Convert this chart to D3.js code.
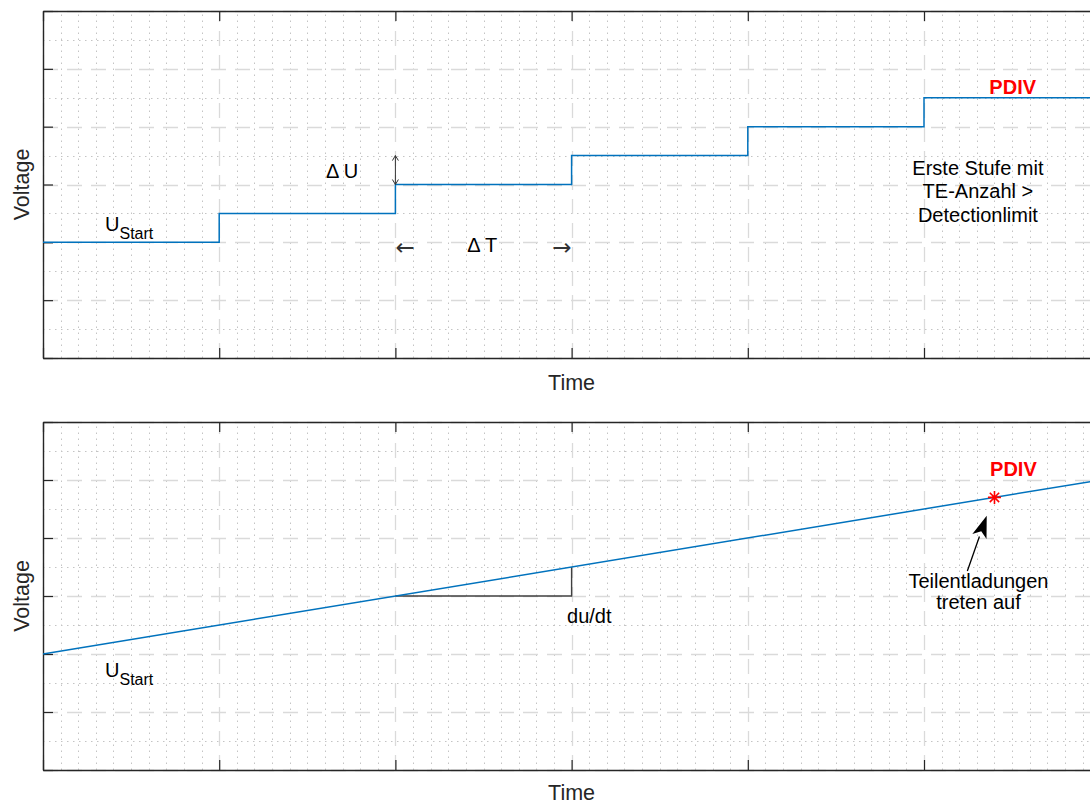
<!DOCTYPE html>
<html><head><meta charset="utf-8">
<script src="https://cdn.jsdelivr.net/npm/d3@7"></script>
<style>
body{margin:0;background:#fff}
text{font-family:"Liberation Sans",Arial,Helvetica,sans-serif;fill:#000}
</style>
</head><body>
<svg id="c" width="1090" height="805"></svg>
<script>
// ---------- data ----------
const xTicks = [0,1,2,3,4,5,6];
const yTicks = [0,1,2,3,4,5,6];
const xDomain = [0,6];
const yDomain = [0,6];
const stepTime = [0,1,2,3,4,5,6];
const stepVoltage = [2,2.5,3,3.5,4,4.5,4.5];
const rampTime = [0,6];
const rampVoltage = [2,5];
const pdivPoint = [5.4,4.7];
const xLabel = "Time";
const yLabel = "Voltage";
// annotations in data coordinates
const topUStart = [0.352,2.196];
const deltaULabel = {text:"\u0394 U", pos:[1.606,3.113]};
const deltaUArrow = [[2,3],[2,3.5]];
const deltaTLeft = {text:"\u2190", pos:[2.0,1.78]};
const deltaTLabel = {text:"\u0394 T", pos:[2.408,1.838]};
const deltaTRight = {text:"\u2192", pos:[2.89,1.78]};
const topPdiv = {text:"PDIV", pos:[5.371,4.56]};
const stufeLines = ["Erste Stufe mit","TE-Anzahl >","Detectionlimit"];
const stufePos = [5.306,3.164];
const botUStart = [0.352,1.608];
const dudtLabel = {text:"du/dt", pos:[2.974,2.537]};
const dudtTriangle = [[2,3],[3,3],[3,3.5]];
const botPdiv = {text:"PDIV", pos:[5.375,5.067]};
const teArrow = [[5.246,3.432],[5.356,4.383]];
const teLines = ["Teilentladungen","treten auf"];
const tePos = [5.309,3.142];

// ---------- layout ----------
const svg = d3.select("#c");
const X0 = 43, X1 = 1100.2;
const panels = [{y0:11, y1:358, lab:32}, {y0:422, y1:770, lab:30}];
const blue = "#0072BD";
const axisColor = "#262626";

function makePanel(p){
  const x = d3.scaleLinear().domain(xDomain).range([X0,X1]);
  const y = d3.scaleLinear().domain(yDomain).range([p.y1,p.y0]);
  const g = svg.append("g");
  const xMinor = d3.range(0,61).map(i=>i/10).filter(v=>!xTicks.includes(v));
  const yMinor = d3.range(0,13).map(i=>i/2).filter(v=>!yTicks.includes(v));
  g.selectAll(".xm").data(xMinor).enter().append("line")
    .attr("x1",d=>Math.round(x(d))+0.5).attr("x2",d=>Math.round(x(d))+0.5)
    .attr("y1",y(yDomain[0])).attr("y2",y(yDomain[1]))
    .attr("stroke","#c4c4c4").attr("stroke-width",1).attr("stroke-dasharray","1.5,4.5");
  g.selectAll(".ym").data(yMinor).enter().append("line")
    .attr("y1",d=>Math.round(y(d))+0.5).attr("y2",d=>Math.round(y(d))+0.5)
    .attr("x1",x(xDomain[0])).attr("x2",x(xDomain[1]))
    .attr("stroke","#c4c4c4").attr("stroke-width",1).attr("stroke-dasharray","1.5,4.5");
  g.selectAll(".xg").data(xTicks).enter().append("line")
    .attr("x1",d=>Math.round(x(d))+0.5).attr("x2",d=>Math.round(x(d))+0.5)
    .attr("y1",y(yDomain[0])).attr("y2",y(yDomain[1]))
    .attr("stroke","#dadada").attr("stroke-width",1.3).attr("stroke-dasharray","15,9");
  g.selectAll(".yg").data(yTicks).enter().append("line")
    .attr("y1",d=>Math.round(y(d))+0.5).attr("y2",d=>Math.round(y(d))+0.5)
    .attr("x1",x(xDomain[0])).attr("x2",x(xDomain[1]))
    .attr("stroke","#dadada").attr("stroke-width",1.3).attr("stroke-dasharray","15,9");
  const ax = [
    {a:d3.axisBottom(x).tickValues(xTicks).tickSize(-10), t:`translate(0,${p.y1})`},
    {a:d3.axisTop(x).tickValues(xTicks).tickSize(-10), t:`translate(0,${p.y0})`},
    {a:d3.axisLeft(y).tickValues(yTicks).tickSize(-10), t:`translate(${X0},0)`},
    {a:d3.axisRight(y).tickValues(yTicks).tickSize(-10), t:`translate(${X1},0)`}
  ];
  ax.forEach(o=>{
    const ag = g.append("g").attr("transform",o.t).call(o.a.tickFormat("").tickSizeOuter(0));
    ag.select(".domain").attr("stroke",axisColor).attr("stroke-width",1.4);
    ag.selectAll(".tick line").attr("stroke",axisColor).attr("stroke-width",1.2);
  });
  g.append("text").attr("x",(X0+X1)/2).attr("y",p.y1+p.lab).attr("text-anchor","middle")
    .style("font-size","21.5px").style("fill","#262626").text(xLabel);
  g.append("text").attr("transform",`translate(29,${(p.y0+p.y1)/2}) rotate(-90)`)
    .attr("text-anchor","middle").style("font-size","21.5px").style("fill","#262626").text(yLabel);
  return {g,x,y};
}

function ustart(P,pos){
  const t = P.g.append("text").attr("x",P.x(pos[0])).attr("y",P.y(pos[1])).style("font-size","20px");
  t.append("tspan").text("U");
  t.append("tspan").attr("dy",8).style("font-size","16px").text("Start");
}
function label(P,o,extra){
  const t = P.g.append("text").attr("x",P.x(o.pos[0])).attr("y",P.y(o.pos[1])).style("font-size","20px").text(o.text);
  if(extra) extra(t);
  return t;
}

// ---------- top panel ----------
const T = makePanel(panels[0]);
const stepData = stepTime.map((t,i)=>[t,stepVoltage[i]]);
T.g.append("path").datum(stepData)
  .attr("d",d3.line().x(d=>T.x(d[0])).y(d=>T.y(d[1])).curve(d3.curveStepAfter))
  .attr("fill","none").attr("stroke",blue).attr("stroke-width",1.5);
ustart(T,topUStart);
label(T,deltaULabel);
{
  const xa = T.x(deltaUArrow[0][0]), ya = T.y(deltaUArrow[0][1]), yb = T.y(deltaUArrow[1][1]);
  const c="#333";
  T.g.append("line").attr("x1",xa).attr("x2",xa).attr("y1",ya).attr("y2",yb).attr("stroke",c).attr("stroke-width",1);
  T.g.append("path").attr("d",`M${xa-3},${yb+5}L${xa},${yb}L${xa+3},${yb+5}M${xa-3},${ya-5}L${xa},${ya}L${xa+3},${ya-5}`)
    .attr("fill","none").attr("stroke",c).attr("stroke-width",1);
}
const arrowStyle = t=>t.style("font-family","'DejaVu Sans'").style("font-size","23px").style("fill","#333");
label(T,deltaTLeft, arrowStyle);
label(T,deltaTLabel);
label(T,deltaTRight, arrowStyle);
label(T,topPdiv, t=>t.style("font-weight","bold").style("fill","#ff0000"));
{
  const t = T.g.append("text").attr("x",T.x(stufePos[0])).attr("y",T.y(stufePos[1]))
    .attr("text-anchor","middle").style("font-size","20px");
  stufeLines.forEach((s,i)=>t.append("tspan").attr("x",T.x(stufePos[0])).attr("dy",i?23.3:0).text(s));
}

// ---------- bottom panel ----------
const B = makePanel(panels[1]);
const rampData = rampTime.map((t,i)=>[t,rampVoltage[i]]);
B.g.append("path").datum(dudtTriangle)
  .attr("d",d3.line().x(d=>B.x(d[0])).y(d=>B.y(d[1])))
  .attr("fill","none").attr("stroke","#404040").attr("stroke-width",1.4);
B.g.append("path").datum(rampData)
  .attr("d",d3.line().x(d=>B.x(d[0])).y(d=>B.y(d[1])))
  .attr("fill","none").attr("stroke",blue).attr("stroke-width",1.5);
ustart(B,botUStart);
label(B,dudtLabel);
label(B,botPdiv, t=>t.style("font-weight","bold").style("fill","#ff0000"));
{
  const cx = B.x(pdivPoint[0]), cy = B.y(pdivPoint[1]), r = 6.5, d = r*0.72;
  B.g.append("path").attr("d",`M${cx-r},${cy}L${cx+r},${cy}M${cx},${cy-r}L${cx},${cy+r}M${cx-d},${cy-d}L${cx+d},${cy+d}M${cx-d},${cy+d}L${cx+d},${cy-d}`)
    .attr("stroke","#ff0000").attr("stroke-width",1.6).attr("fill","none");
}
{
  const x1=B.x(teArrow[0][0]), y1=B.y(teArrow[0][1]), x2=B.x(teArrow[1][0]), y2=B.y(teArrow[1][1]);
  const ang=Math.atan2(y2-y1,x2-x1), L=22, W=7.5;
  const bx=x2-L*Math.cos(ang), by=y2-L*Math.sin(ang);
  const px=-Math.sin(ang), py=Math.cos(ang);
  B.g.append("line").attr("x1",x1).attr("y1",y1).attr("x2",bx).attr("y2",by).attr("stroke","#000").attr("stroke-width",1.3);
  B.g.append("path").attr("d",`M${x2},${y2}L${bx+px*W},${by+py*W}L${bx+(x2-bx)*0.25},${by+(y2-by)*0.25}L${bx-px*W},${by-py*W}Z`).attr("fill","#000");
}
{
  const t = B.g.append("text").attr("x",B.x(tePos[0])).attr("y",B.y(tePos[1]))
    .attr("text-anchor","middle").style("font-size","20px");
  teLines.forEach((s,i)=>t.append("tspan").attr("x",B.x(tePos[0])).attr("dy",i?21.7:0).text(s));
}
</script>
</body></html>
